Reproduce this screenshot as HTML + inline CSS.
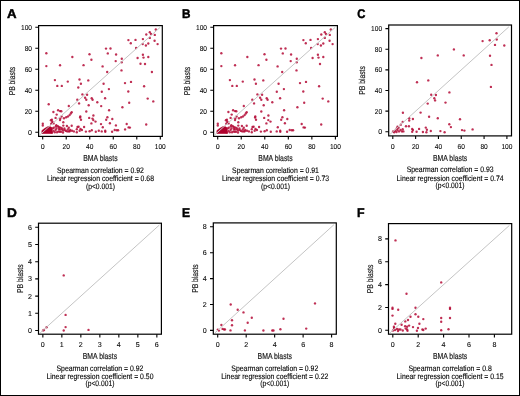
<!DOCTYPE html>
<html><head><meta charset="utf-8"><style>
html,body{margin:0;padding:0;background:#fff;}
svg{display:block;filter:blur(0.3px);}
text{font-family:"Liberation Sans", sans-serif;fill:#222;text-rendering:geometricPrecision;}
.L{font-weight:bold;font-size:12.6px;fill:#000;stroke:#000;stroke-width:0.45px;}
.T{font-size:7.1px;fill:#000;stroke:#000;stroke-width:0.08px;}
.A{font-size:8.6px;fill:#1a1a1a;stroke:#1a1a1a;stroke-width:0.18px;}
.S{font-size:7.9px;fill:#000;stroke:#000;stroke-width:0.12px;}
.bx{fill:none;stroke:#000;stroke-width:1.2;}
.tk{fill:none;stroke:#000;stroke-width:1.1;}
.dg{stroke:#c4c4c4;stroke-width:1.0;}
</style></head><body>
<svg width="520" height="396" viewBox="0 0 520 396">
<rect x="0.5" y="0.5" width="519" height="395" fill="#fff" stroke="#000" stroke-width="1"/>
<g><text transform="translate(6.98 17.75) scale(1.051 1)" x="0" y="0" class="L">A</text><g fill="#b40a36" fill-opacity="0.85"><circle cx="46.35" cy="53.26" r="1.18"/><circle cx="46.35" cy="66.1" r="1.18"/><circle cx="60.06" cy="65.3" r="1.18"/><circle cx="72.34" cy="56.95" r="1.18"/><circle cx="83.55" cy="65.18" r="1.18"/><circle cx="89.5" cy="54.2" r="1.18"/><circle cx="91.4" cy="59.8" r="1.18"/><circle cx="155.8" cy="29.5" r="1.18"/><circle cx="149.8" cy="32.2" r="1.18"/><circle cx="151" cy="33.9" r="1.18"/><circle cx="146.3" cy="34.5" r="1.18"/><circle cx="154.8" cy="34.9" r="1.18"/><circle cx="149.8" cy="37.9" r="1.18"/><circle cx="128.4" cy="40.1" r="1.18"/><circle cx="135.5" cy="39.9" r="1.18"/><circle cx="142.9" cy="39.1" r="1.18"/><circle cx="154.6" cy="40.7" r="1.18"/><circle cx="130.8" cy="43.2" r="1.18"/><circle cx="142.7" cy="44.1" r="1.18"/><circle cx="148.3" cy="43.5" r="1.18"/><circle cx="145.9" cy="45.5" r="1.18"/><circle cx="157.6" cy="44.1" r="1.18"/><circle cx="106" cy="48.6" r="1.18"/><circle cx="110.5" cy="48.5" r="1.18"/><circle cx="136.1" cy="48" r="1.18"/><circle cx="107.8" cy="53.4" r="1.18"/><circle cx="116.1" cy="54.5" r="1.18"/><circle cx="121.8" cy="58.7" r="1.18"/><circle cx="142.9" cy="54.8" r="1.18"/><circle cx="137.6" cy="58" r="1.18"/><circle cx="143.5" cy="57.6" r="1.18"/><circle cx="148.3" cy="57" r="1.18"/><circle cx="115.7" cy="61.1" r="1.18"/><circle cx="121.7" cy="62.2" r="1.18"/><circle cx="140.5" cy="63.8" r="1.18"/><circle cx="145" cy="64" r="1.18"/><circle cx="102.6" cy="66.4" r="1.18"/><circle cx="121.5" cy="70.4" r="1.18"/><circle cx="107.2" cy="72" r="1.18"/><circle cx="151.9" cy="72" r="1.18"/><circle cx="54.9" cy="80.1" r="1.18"/><circle cx="57.3" cy="85.9" r="1.18"/><circle cx="61.8" cy="85.9" r="1.18"/><circle cx="67.8" cy="81.6" r="1.18"/><circle cx="79.5" cy="79.5" r="1.18"/><circle cx="88.3" cy="80.4" r="1.18"/><circle cx="80.9" cy="83.7" r="1.18"/><circle cx="78.3" cy="87.5" r="1.18"/><circle cx="82.4" cy="94.4" r="1.18"/><circle cx="87.1" cy="94.8" r="1.18"/><circle cx="85.1" cy="97.7" r="1.18"/><circle cx="86.3" cy="99.8" r="1.18"/><circle cx="91.7" cy="98.3" r="1.18"/><circle cx="92.6" cy="99.8" r="1.18"/><circle cx="77.3" cy="99.8" r="1.18"/><circle cx="79.1" cy="103.4" r="1.18"/><circle cx="97.3" cy="102.2" r="1.18"/><circle cx="88.7" cy="105.2" r="1.18"/><circle cx="48.7" cy="104.2" r="1.18"/><circle cx="68.8" cy="106" r="1.18"/><circle cx="60.1" cy="111.1" r="1.18"/><circle cx="53.4" cy="112" r="1.18"/><circle cx="71.7" cy="112.3" r="1.18"/><circle cx="70.8" cy="113.5" r="1.18"/><circle cx="69.6" cy="115.1" r="1.18"/><circle cx="86.3" cy="111.5" r="1.18"/><circle cx="93.4" cy="115.5" r="1.18"/><circle cx="61.6" cy="116.5" r="1.18"/><circle cx="80.3" cy="116.5" r="1.18"/><circle cx="103.6" cy="83.7" r="1.18"/><circle cx="125" cy="83.1" r="1.18"/><circle cx="131" cy="81.9" r="1.18"/><circle cx="144.1" cy="86.3" r="1.18"/><circle cx="108.9" cy="89.1" r="1.18"/><circle cx="101.8" cy="91.8" r="1.18"/><circle cx="128.3" cy="91.5" r="1.18"/><circle cx="105.1" cy="98.3" r="1.18"/><circle cx="147.7" cy="98.6" r="1.18"/><circle cx="153.3" cy="101.4" r="1.18"/><circle cx="129.2" cy="102.8" r="1.18"/><circle cx="101.2" cy="106.1" r="1.18"/><circle cx="122.4" cy="107.2" r="1.18"/><circle cx="58.1" cy="110.2" r="1.18"/><circle cx="61.3" cy="111.3" r="1.18"/><circle cx="56.7" cy="114.6" r="1.18"/><circle cx="55.6" cy="117.9" r="1.18"/><circle cx="51.9" cy="119.7" r="1.18"/><circle cx="52.3" cy="121.6" r="1.18"/><circle cx="60.3" cy="118.6" r="1.18"/><circle cx="60" cy="120.1" r="1.18"/><circle cx="64" cy="118.3" r="1.18"/><circle cx="66.2" cy="117.2" r="1.18"/><circle cx="68" cy="116.4" r="1.18"/><circle cx="63.3" cy="122.3" r="1.18"/><circle cx="42.8" cy="123.8" r="1.18"/><circle cx="42.8" cy="125.6" r="1.18"/><circle cx="51.2" cy="123.8" r="1.18"/><circle cx="56.3" cy="125.2" r="1.18"/><circle cx="57.8" cy="126.3" r="1.18"/><circle cx="60" cy="127.4" r="1.18"/><circle cx="63.3" cy="125.6" r="1.18"/><circle cx="66.9" cy="126" r="1.18"/><circle cx="68.8" cy="127.8" r="1.18"/><circle cx="62.2" cy="129.2" r="1.18"/><circle cx="64.7" cy="130" r="1.18"/><circle cx="67.3" cy="131.4" r="1.18"/><circle cx="70.2" cy="130" r="1.18"/><circle cx="58.5" cy="131.4" r="1.18"/><circle cx="55.6" cy="130" r="1.18"/><circle cx="53.8" cy="127.8" r="1.18"/><circle cx="54.8" cy="132.2" r="1.18"/><circle cx="50.9" cy="120.2" r="1.18"/><circle cx="52.5" cy="122.8" r="1.18"/><circle cx="53.6" cy="123.4" r="1.18"/><circle cx="52.5" cy="128.5" r="1.18"/><circle cx="53.5" cy="131" r="1.18"/><circle cx="56.5" cy="128.5" r="1.18"/><circle cx="59" cy="129" r="1.18"/><circle cx="57" cy="132.3" r="1.18"/><circle cx="61" cy="131.8" r="1.18"/><circle cx="63" cy="132.5" r="1.18"/><circle cx="80.1" cy="117.5" r="1.18"/><circle cx="81" cy="119.7" r="1.18"/><circle cx="89.2" cy="117.9" r="1.18"/><circle cx="92.5" cy="118.6" r="1.18"/><circle cx="93.3" cy="120.1" r="1.18"/><circle cx="95.5" cy="121.6" r="1.18"/><circle cx="91.4" cy="123.4" r="1.18"/><circle cx="101" cy="124.1" r="1.18"/><circle cx="71.7" cy="125.7" r="1.18"/><circle cx="77.5" cy="127" r="1.18"/><circle cx="78.6" cy="126.7" r="1.18"/><circle cx="84.1" cy="127" r="1.18"/><circle cx="76.8" cy="129.2" r="1.18"/><circle cx="80.5" cy="128.9" r="1.18"/><circle cx="81.9" cy="130" r="1.18"/><circle cx="79.7" cy="130.7" r="1.18"/><circle cx="72" cy="130.7" r="1.18"/><circle cx="76.8" cy="132.2" r="1.18"/><circle cx="85.9" cy="131.6" r="1.18"/><circle cx="89.6" cy="131.3" r="1.18"/><circle cx="91.8" cy="130.3" r="1.18"/><circle cx="95.8" cy="131.8" r="1.18"/><circle cx="98.8" cy="130.7" r="1.18"/><circle cx="73.9" cy="131.4" r="1.18"/><circle cx="68.7" cy="131.4" r="1.18"/><circle cx="101.7" cy="131.4" r="1.18"/><circle cx="109.1" cy="110.2" r="1.18"/><circle cx="107.4" cy="117.2" r="1.18"/><circle cx="106.2" cy="119.7" r="1.18"/><circle cx="112.3" cy="119" r="1.18"/><circle cx="109.9" cy="123.2" r="1.18"/><circle cx="115.9" cy="125.4" r="1.18"/><circle cx="102.8" cy="127.2" r="1.18"/><circle cx="126.7" cy="124" r="1.18"/><circle cx="128.6" cy="127.4" r="1.18"/><circle cx="129.9" cy="127.6" r="1.18"/><circle cx="125.1" cy="129.4" r="1.18"/><circle cx="105.2" cy="130.7" r="1.18"/><circle cx="105.3" cy="131.8" r="1.18"/><circle cx="112.1" cy="131.8" r="1.18"/><circle cx="114.7" cy="130" r="1.18"/><circle cx="116.7" cy="130.3" r="1.18"/><circle cx="118.1" cy="130.3" r="1.18"/><circle cx="146.2" cy="124.5" r="1.18"/><circle cx="55.8" cy="126.5" r="1.18"/><circle cx="58.7" cy="127" r="1.18"/><circle cx="60.1" cy="129.4" r="1.18"/><circle cx="61.6" cy="128" r="1.18"/><circle cx="63" cy="130.4" r="1.18"/><circle cx="64.4" cy="128.5" r="1.18"/><circle cx="65.9" cy="130.9" r="1.18"/><circle cx="67.8" cy="129.4" r="1.18"/><circle cx="69.7" cy="131.3" r="1.18"/><circle cx="59.6" cy="131.8" r="1.18"/><circle cx="51.5" cy="132.3" r="1.18"/></g><polygon fill="#b0002c" stroke="#b0002c" stroke-width="0.6" stroke-linejoin="round" points="41.9,133.5 41.9,130.6 44.5,128.6 47.5,126.8 49.8,126.4 51.8,127.6 52.6,133.5"/><line x1="39.9" y1="134.8" x2="160.08" y2="27.4" class="dg"/><rect x="38.6" y="25.6" width="123.7" height="110.8" class="bx"/><path d="M42.7 136.4V139.6M66.22 136.4V139.6M89.74 136.4V139.6M113.26 136.4V139.6M136.78 136.4V139.6M160.3 136.4V139.6M38.6 132.3H35.3M38.6 111.28H35.3M38.6 90.26H35.3M38.6 69.24H35.3M38.6 48.22H35.3M38.6 27.2H35.3" class="tk"/><text x="42.7" y="149" class="T" text-anchor="middle">0</text><text x="66.22" y="149" class="T" text-anchor="middle" textLength="7.34" lengthAdjust="spacingAndGlyphs">20</text><text x="89.74" y="149" class="T" text-anchor="middle" textLength="7.34" lengthAdjust="spacingAndGlyphs">40</text><text x="113.26" y="149" class="T" text-anchor="middle" textLength="7.34" lengthAdjust="spacingAndGlyphs">60</text><text x="136.78" y="149" class="T" text-anchor="middle" textLength="7.34" lengthAdjust="spacingAndGlyphs">80</text><text x="160.3" y="149" class="T" text-anchor="middle" textLength="11.01" lengthAdjust="spacingAndGlyphs">100</text><text x="32" y="134.7" class="T" text-anchor="end">0</text><text x="32" y="113.68" class="T" text-anchor="end" textLength="7.34" lengthAdjust="spacingAndGlyphs">20</text><text x="32" y="92.66" class="T" text-anchor="end" textLength="7.34" lengthAdjust="spacingAndGlyphs">40</text><text x="32" y="71.64" class="T" text-anchor="end" textLength="7.34" lengthAdjust="spacingAndGlyphs">60</text><text x="32" y="50.62" class="T" text-anchor="end" textLength="7.34" lengthAdjust="spacingAndGlyphs">80</text><text x="32" y="29.6" class="T" text-anchor="end" textLength="11.01" lengthAdjust="spacingAndGlyphs">100</text><text x="100.45" y="161.2" class="A" text-anchor="middle" textLength="34.4" lengthAdjust="spacingAndGlyphs">BMA blasts</text><text transform="translate(15.2 81) rotate(-90)" x="0" y="0" class="A" text-anchor="middle" textLength="28.5" lengthAdjust="spacingAndGlyphs">PB blasts</text><text x="100.45" y="172.7" class="S" text-anchor="middle" textLength="86.9" lengthAdjust="spacingAndGlyphs">Spearman correlation = 0.92</text><text x="100.45" y="181" class="S" text-anchor="middle" textLength="107.1" lengthAdjust="spacingAndGlyphs">Linear regression coefficient = 0.68</text><text x="100.45" y="188.6" class="S" text-anchor="middle" textLength="29.0" lengthAdjust="spacingAndGlyphs">(p&lt;0.001)</text></g><g><text transform="translate(182.12 17.75) scale(0.935 1)" x="0" y="0" class="L">B</text><g fill="#b40a36" fill-opacity="0.85"><circle cx="221.35" cy="53.26" r="1.18"/><circle cx="221.35" cy="66.1" r="1.18"/><circle cx="235.06" cy="65.3" r="1.18"/><circle cx="247.34" cy="56.95" r="1.18"/><circle cx="258.55" cy="65.18" r="1.18"/><circle cx="264.5" cy="54.2" r="1.18"/><circle cx="266.4" cy="59.8" r="1.18"/><circle cx="330.8" cy="29.5" r="1.18"/><circle cx="324.8" cy="32.2" r="1.18"/><circle cx="326" cy="33.9" r="1.18"/><circle cx="321.3" cy="34.5" r="1.18"/><circle cx="329.8" cy="34.9" r="1.18"/><circle cx="324.8" cy="37.9" r="1.18"/><circle cx="303.4" cy="40.1" r="1.18"/><circle cx="310.5" cy="39.9" r="1.18"/><circle cx="317.9" cy="39.1" r="1.18"/><circle cx="329.6" cy="40.7" r="1.18"/><circle cx="305.8" cy="43.2" r="1.18"/><circle cx="317.7" cy="44.1" r="1.18"/><circle cx="323.3" cy="43.5" r="1.18"/><circle cx="320.9" cy="45.5" r="1.18"/><circle cx="332.6" cy="44.1" r="1.18"/><circle cx="281" cy="48.6" r="1.18"/><circle cx="285.5" cy="48.5" r="1.18"/><circle cx="311.1" cy="48" r="1.18"/><circle cx="282.8" cy="53.4" r="1.18"/><circle cx="291.1" cy="54.5" r="1.18"/><circle cx="296.8" cy="58.7" r="1.18"/><circle cx="317.9" cy="54.8" r="1.18"/><circle cx="312.6" cy="58" r="1.18"/><circle cx="318.5" cy="57.6" r="1.18"/><circle cx="323.3" cy="57" r="1.18"/><circle cx="290.7" cy="61.1" r="1.18"/><circle cx="296.7" cy="62.2" r="1.18"/><circle cx="320" cy="64" r="1.18"/><circle cx="277.6" cy="66.4" r="1.18"/><circle cx="296.5" cy="70.4" r="1.18"/><circle cx="282.2" cy="72" r="1.18"/><circle cx="229.9" cy="80.1" r="1.18"/><circle cx="232.3" cy="85.9" r="1.18"/><circle cx="236.8" cy="85.9" r="1.18"/><circle cx="242.8" cy="81.6" r="1.18"/><circle cx="254.5" cy="79.5" r="1.18"/><circle cx="263.3" cy="80.4" r="1.18"/><circle cx="255.9" cy="83.7" r="1.18"/><circle cx="257.4" cy="94.4" r="1.18"/><circle cx="262.1" cy="94.8" r="1.18"/><circle cx="260.1" cy="97.7" r="1.18"/><circle cx="261.3" cy="99.8" r="1.18"/><circle cx="266.7" cy="98.3" r="1.18"/><circle cx="267.6" cy="99.8" r="1.18"/><circle cx="252.3" cy="99.8" r="1.18"/><circle cx="254.1" cy="103.4" r="1.18"/><circle cx="272.3" cy="102.2" r="1.18"/><circle cx="263.7" cy="105.2" r="1.18"/><circle cx="243.8" cy="106" r="1.18"/><circle cx="235.1" cy="111.1" r="1.18"/><circle cx="228.4" cy="112" r="1.18"/><circle cx="246.7" cy="112.3" r="1.18"/><circle cx="245.8" cy="113.5" r="1.18"/><circle cx="244.6" cy="115.1" r="1.18"/><circle cx="261.3" cy="111.5" r="1.18"/><circle cx="268.4" cy="115.5" r="1.18"/><circle cx="236.6" cy="116.5" r="1.18"/><circle cx="255.3" cy="116.5" r="1.18"/><circle cx="278.6" cy="83.7" r="1.18"/><circle cx="300" cy="83.1" r="1.18"/><circle cx="306" cy="81.9" r="1.18"/><circle cx="319.1" cy="86.3" r="1.18"/><circle cx="283.9" cy="89.1" r="1.18"/><circle cx="276.8" cy="91.8" r="1.18"/><circle cx="303.3" cy="91.5" r="1.18"/><circle cx="280.1" cy="98.3" r="1.18"/><circle cx="322.7" cy="98.6" r="1.18"/><circle cx="328.3" cy="101.4" r="1.18"/><circle cx="304.2" cy="102.8" r="1.18"/><circle cx="297.4" cy="107.2" r="1.18"/><circle cx="233.1" cy="110.2" r="1.18"/><circle cx="236.3" cy="111.3" r="1.18"/><circle cx="231.7" cy="114.6" r="1.18"/><circle cx="230.6" cy="117.9" r="1.18"/><circle cx="226.9" cy="119.7" r="1.18"/><circle cx="227.3" cy="121.6" r="1.18"/><circle cx="235.3" cy="118.6" r="1.18"/><circle cx="235" cy="120.1" r="1.18"/><circle cx="239" cy="118.3" r="1.18"/><circle cx="241.2" cy="117.2" r="1.18"/><circle cx="243" cy="116.4" r="1.18"/><circle cx="238.3" cy="122.3" r="1.18"/><circle cx="217.8" cy="123.8" r="1.18"/><circle cx="217.8" cy="125.6" r="1.18"/><circle cx="226.2" cy="123.8" r="1.18"/><circle cx="231.3" cy="125.2" r="1.18"/><circle cx="232.8" cy="126.3" r="1.18"/><circle cx="235" cy="127.4" r="1.18"/><circle cx="238.3" cy="125.6" r="1.18"/><circle cx="241.9" cy="126" r="1.18"/><circle cx="243.8" cy="127.8" r="1.18"/><circle cx="237.2" cy="129.2" r="1.18"/><circle cx="239.7" cy="130" r="1.18"/><circle cx="242.3" cy="131.4" r="1.18"/><circle cx="245.2" cy="130" r="1.18"/><circle cx="233.5" cy="131.4" r="1.18"/><circle cx="230.6" cy="130" r="1.18"/><circle cx="228.8" cy="127.8" r="1.18"/><circle cx="229.8" cy="132.2" r="1.18"/><circle cx="225.9" cy="120.2" r="1.18"/><circle cx="227.5" cy="122.8" r="1.18"/><circle cx="228.6" cy="123.4" r="1.18"/><circle cx="227.5" cy="128.5" r="1.18"/><circle cx="228.5" cy="131" r="1.18"/><circle cx="231.5" cy="128.5" r="1.18"/><circle cx="234" cy="129" r="1.18"/><circle cx="232" cy="132.3" r="1.18"/><circle cx="236" cy="131.8" r="1.18"/><circle cx="238" cy="132.5" r="1.18"/><circle cx="255.1" cy="117.5" r="1.18"/><circle cx="256" cy="119.7" r="1.18"/><circle cx="264.2" cy="117.9" r="1.18"/><circle cx="268.3" cy="120.1" r="1.18"/><circle cx="270.5" cy="121.6" r="1.18"/><circle cx="266.4" cy="123.4" r="1.18"/><circle cx="246.7" cy="125.7" r="1.18"/><circle cx="252.5" cy="127" r="1.18"/><circle cx="253.6" cy="126.7" r="1.18"/><circle cx="259.1" cy="127" r="1.18"/><circle cx="251.8" cy="129.2" r="1.18"/><circle cx="255.5" cy="128.9" r="1.18"/><circle cx="256.9" cy="130" r="1.18"/><circle cx="254.7" cy="130.7" r="1.18"/><circle cx="247" cy="130.7" r="1.18"/><circle cx="251.8" cy="132.2" r="1.18"/><circle cx="260.9" cy="131.6" r="1.18"/><circle cx="264.6" cy="131.3" r="1.18"/><circle cx="266.8" cy="130.3" r="1.18"/><circle cx="270.8" cy="131.8" r="1.18"/><circle cx="248.9" cy="131.4" r="1.18"/><circle cx="243.7" cy="131.4" r="1.18"/><circle cx="276.7" cy="131.4" r="1.18"/><circle cx="284.1" cy="110.2" r="1.18"/><circle cx="282.4" cy="117.2" r="1.18"/><circle cx="281.2" cy="119.7" r="1.18"/><circle cx="287.3" cy="119" r="1.18"/><circle cx="284.9" cy="123.2" r="1.18"/><circle cx="277.8" cy="127.2" r="1.18"/><circle cx="301.7" cy="124" r="1.18"/><circle cx="303.6" cy="127.4" r="1.18"/><circle cx="304.9" cy="127.6" r="1.18"/><circle cx="280.2" cy="130.7" r="1.18"/><circle cx="280.3" cy="131.8" r="1.18"/><circle cx="287.1" cy="131.8" r="1.18"/><circle cx="289.7" cy="130" r="1.18"/><circle cx="291.7" cy="130.3" r="1.18"/><circle cx="293.1" cy="130.3" r="1.18"/><circle cx="321.2" cy="124.5" r="1.18"/><circle cx="230.8" cy="126.5" r="1.18"/><circle cx="233.7" cy="127" r="1.18"/><circle cx="235.1" cy="129.4" r="1.18"/><circle cx="236.6" cy="128" r="1.18"/><circle cx="238" cy="130.4" r="1.18"/><circle cx="239.4" cy="128.5" r="1.18"/><circle cx="240.9" cy="130.9" r="1.18"/><circle cx="242.8" cy="129.4" r="1.18"/><circle cx="244.7" cy="131.3" r="1.18"/><circle cx="234.6" cy="131.8" r="1.18"/><circle cx="226.5" cy="132.3" r="1.18"/></g><polygon fill="#b0002c" stroke="#b0002c" stroke-width="0.6" stroke-linejoin="round" points="216.9,133.5 216.9,130.6 219.5,128.6 222.5,126.8 224.8,126.4 226.8,127.6 227.6,133.5"/><line x1="214.9" y1="134.7" x2="335.18" y2="27.4" class="dg"/><rect x="213.6" y="25.6" width="123.8" height="110.8" class="bx"/><path d="M217.7 136.4V139.6M241.24 136.4V139.6M264.78 136.4V139.6M288.32 136.4V139.6M311.86 136.4V139.6M335.4 136.4V139.6M213.6 132.2H210.3M213.6 111.2H210.3M213.6 90.2H210.3M213.6 69.2H210.3M213.6 48.2H210.3M213.6 27.2H210.3" class="tk"/><text x="217.7" y="149" class="T" text-anchor="middle">0</text><text x="241.24" y="149" class="T" text-anchor="middle" textLength="7.34" lengthAdjust="spacingAndGlyphs">20</text><text x="264.78" y="149" class="T" text-anchor="middle" textLength="7.34" lengthAdjust="spacingAndGlyphs">40</text><text x="288.32" y="149" class="T" text-anchor="middle" textLength="7.34" lengthAdjust="spacingAndGlyphs">60</text><text x="311.86" y="149" class="T" text-anchor="middle" textLength="7.34" lengthAdjust="spacingAndGlyphs">80</text><text x="335.4" y="149" class="T" text-anchor="middle" textLength="11.01" lengthAdjust="spacingAndGlyphs">100</text><text x="207" y="134.6" class="T" text-anchor="end">0</text><text x="207" y="113.6" class="T" text-anchor="end" textLength="7.34" lengthAdjust="spacingAndGlyphs">20</text><text x="207" y="92.6" class="T" text-anchor="end" textLength="7.34" lengthAdjust="spacingAndGlyphs">40</text><text x="207" y="71.6" class="T" text-anchor="end" textLength="7.34" lengthAdjust="spacingAndGlyphs">60</text><text x="207" y="50.6" class="T" text-anchor="end" textLength="7.34" lengthAdjust="spacingAndGlyphs">80</text><text x="207" y="29.6" class="T" text-anchor="end" textLength="11.01" lengthAdjust="spacingAndGlyphs">100</text><text x="275.5" y="161.2" class="A" text-anchor="middle" textLength="34.4" lengthAdjust="spacingAndGlyphs">BMA blasts</text><text transform="translate(190.2 81) rotate(-90)" x="0" y="0" class="A" text-anchor="middle" textLength="28.5" lengthAdjust="spacingAndGlyphs">PB blasts</text><text x="275.5" y="172.7" class="S" text-anchor="middle" textLength="86.9" lengthAdjust="spacingAndGlyphs">Spearman correlation = 0.91</text><text x="275.5" y="181" class="S" text-anchor="middle" textLength="107.1" lengthAdjust="spacingAndGlyphs">Linear regression coefficient = 0.73</text><text x="275.5" y="188.6" class="S" text-anchor="middle" textLength="29.0" lengthAdjust="spacingAndGlyphs">(p&lt;0.001)</text></g><g><text transform="translate(357.24 17.75) scale(0.898 1)" x="0" y="0" class="L">C</text><g fill="#b40a36" fill-opacity="0.85"><circle cx="421.4" cy="58" r="1.18"/><circle cx="437.8" cy="55.4" r="1.18"/><circle cx="496.5" cy="33.3" r="1.18"/><circle cx="482.6" cy="41.1" r="1.18"/><circle cx="489.7" cy="40.3" r="1.18"/><circle cx="496.7" cy="39.5" r="1.18"/><circle cx="495" cy="44.9" r="1.18"/><circle cx="504.3" cy="45.5" r="1.18"/><circle cx="453.9" cy="49.4" r="1.18"/><circle cx="463.7" cy="55.4" r="1.18"/><circle cx="490" cy="55.8" r="1.18"/><circle cx="491.5" cy="64.9" r="1.18"/><circle cx="417" cy="82.2" r="1.18"/><circle cx="428.3" cy="80.4" r="1.18"/><circle cx="431.2" cy="94.8" r="1.18"/><circle cx="435.9" cy="95" r="1.18"/><circle cx="434.3" cy="98.3" r="1.18"/><circle cx="435.1" cy="100.4" r="1.18"/><circle cx="427.7" cy="103.6" r="1.18"/><circle cx="445.5" cy="102.6" r="1.18"/><circle cx="449.4" cy="92.4" r="1.18"/><circle cx="402.9" cy="112.7" r="1.18"/><circle cx="420.6" cy="112.6" r="1.18"/><circle cx="429.1" cy="116.7" r="1.18"/><circle cx="490.9" cy="86.9" r="1.18"/><circle cx="409.2" cy="118.3" r="1.18"/><circle cx="412.9" cy="119" r="1.18"/><circle cx="409.2" cy="120.5" r="1.18"/><circle cx="402.7" cy="121.9" r="1.18"/><circle cx="400.8" cy="124.8" r="1.18"/><circle cx="406" cy="126.3" r="1.18"/><circle cx="408.9" cy="126.2" r="1.18"/><circle cx="397.5" cy="126.7" r="1.18"/><circle cx="412.2" cy="128.9" r="1.18"/><circle cx="412.9" cy="130" r="1.18"/><circle cx="412.2" cy="131.8" r="1.18"/><circle cx="416.6" cy="131.8" r="1.18"/><circle cx="419.1" cy="128.9" r="1.18"/><circle cx="402.7" cy="129.2" r="1.18"/><circle cx="403.4" cy="131.4" r="1.18"/><circle cx="393.1" cy="131.4" r="1.18"/><circle cx="395.3" cy="130.7" r="1.18"/><circle cx="397.5" cy="130" r="1.18"/><circle cx="399" cy="131.4" r="1.18"/><circle cx="400.5" cy="130" r="1.18"/><circle cx="401.9" cy="131.4" r="1.18"/><circle cx="396.8" cy="128.5" r="1.18"/><circle cx="398.6" cy="127.8" r="1.18"/><circle cx="394.2" cy="132.2" r="1.18"/><circle cx="396.5" cy="132" r="1.18"/><circle cx="437.8" cy="118.2" r="1.18"/><circle cx="449.3" cy="124.3" r="1.18"/><circle cx="450.9" cy="127.1" r="1.18"/><circle cx="425.8" cy="127.6" r="1.18"/><circle cx="426.9" cy="129.7" r="1.18"/><circle cx="422.9" cy="132" r="1.18"/><circle cx="426.4" cy="132.2" r="1.18"/><circle cx="430.8" cy="131" r="1.18"/><circle cx="440.4" cy="131.1" r="1.18"/><circle cx="444.6" cy="132.2" r="1.18"/><circle cx="460" cy="119.2" r="1.18"/><circle cx="462" cy="130.1" r="1.18"/><circle cx="464.4" cy="130.6" r="1.18"/><circle cx="472.6" cy="129.4" r="1.18"/></g><line x1="390" y1="134.33" x2="508.89" y2="26.8" class="dg"/><rect x="388.7" y="25.0" width="122.8" height="110.9" class="bx"/><path d="M392.8 135.9V139.1M415.62 135.9V139.1M438.44 135.9V139.1M461.26 135.9V139.1M484.08 135.9V139.1M506.9 135.9V139.1M388.7 131.8H385.4M388.7 111.16H385.4M388.7 90.52H385.4M388.7 69.88H385.4M388.7 49.24H385.4M388.7 28.6H385.4" class="tk"/><text x="392.8" y="148.5" class="T" text-anchor="middle">0</text><text x="415.62" y="148.5" class="T" text-anchor="middle" textLength="7.34" lengthAdjust="spacingAndGlyphs">20</text><text x="438.44" y="148.5" class="T" text-anchor="middle" textLength="7.34" lengthAdjust="spacingAndGlyphs">40</text><text x="461.26" y="148.5" class="T" text-anchor="middle" textLength="7.34" lengthAdjust="spacingAndGlyphs">60</text><text x="484.08" y="148.5" class="T" text-anchor="middle" textLength="7.34" lengthAdjust="spacingAndGlyphs">80</text><text x="506.9" y="148.5" class="T" text-anchor="middle" textLength="11.01" lengthAdjust="spacingAndGlyphs">100</text><text x="382.1" y="134.2" class="T" text-anchor="end">0</text><text x="382.1" y="113.56" class="T" text-anchor="end" textLength="7.34" lengthAdjust="spacingAndGlyphs">20</text><text x="382.1" y="92.92" class="T" text-anchor="end" textLength="7.34" lengthAdjust="spacingAndGlyphs">40</text><text x="382.1" y="72.28" class="T" text-anchor="end" textLength="7.34" lengthAdjust="spacingAndGlyphs">60</text><text x="382.1" y="51.64" class="T" text-anchor="end" textLength="7.34" lengthAdjust="spacingAndGlyphs">80</text><text x="382.1" y="31" class="T" text-anchor="end" textLength="11.01" lengthAdjust="spacingAndGlyphs">100</text><text x="450.1" y="160.7" class="A" text-anchor="middle" textLength="34.4" lengthAdjust="spacingAndGlyphs">BMA blasts</text><text transform="translate(365.3 80.45) rotate(-90)" x="0" y="0" class="A" text-anchor="middle" textLength="28.5" lengthAdjust="spacingAndGlyphs">PB blasts</text><text x="450.1" y="172.2" class="S" text-anchor="middle" textLength="86.9" lengthAdjust="spacingAndGlyphs">Spearman correlation = 0.93</text><text x="450.1" y="180.5" class="S" text-anchor="middle" textLength="107.1" lengthAdjust="spacingAndGlyphs">Linear regression coefficient = 0.74</text><text x="450.1" y="188.1" class="S" text-anchor="middle" textLength="29.0" lengthAdjust="spacingAndGlyphs">(p&lt;0.001)</text></g><g><text transform="translate(6.9 217.4) scale(1.084 1)" x="0" y="0" class="L">D</text><g fill="#b40a36" fill-opacity="0.85"><circle cx="43.1" cy="330.4" r="1.18"/><circle cx="44" cy="330" r="1.18"/><circle cx="46.6" cy="327.2" r="1.18"/><circle cx="65.6" cy="314.9" r="1.18"/><circle cx="65.6" cy="327.1" r="1.18"/><circle cx="63.7" cy="330.5" r="1.18"/><circle cx="88.5" cy="329.9" r="1.18"/><circle cx="63.7" cy="275.4" r="1.18"/></g><line x1="40.2" y1="332.9" x2="159.39" y2="225" class="dg"/><rect x="38.5" y="223.2" width="122.9" height="111" class="bx"/><path d="M42.85 334.2V337.4M61.85 334.2V337.4M80.85 334.2V337.4M99.85 334.2V337.4M118.85 334.2V337.4M137.85 334.2V337.4M156.85 334.2V337.4M38.5 330.5H35.2M38.5 313.3H35.2M38.5 296.1H35.2M38.5 278.9H35.2M38.5 261.7H35.2M38.5 244.5H35.2M38.5 227.3H35.2" class="tk"/><text x="42.85" y="346.8" class="T" text-anchor="middle">0</text><text x="61.85" y="346.8" class="T" text-anchor="middle">1</text><text x="80.85" y="346.8" class="T" text-anchor="middle">2</text><text x="99.85" y="346.8" class="T" text-anchor="middle">3</text><text x="118.85" y="346.8" class="T" text-anchor="middle">4</text><text x="137.85" y="346.8" class="T" text-anchor="middle">5</text><text x="156.85" y="346.8" class="T" text-anchor="middle">6</text><text x="31.9" y="332.9" class="T" text-anchor="end">0</text><text x="31.9" y="315.7" class="T" text-anchor="end">1</text><text x="31.9" y="298.5" class="T" text-anchor="end">2</text><text x="31.9" y="281.3" class="T" text-anchor="end">3</text><text x="31.9" y="264.1" class="T" text-anchor="end">4</text><text x="31.9" y="246.9" class="T" text-anchor="end">5</text><text x="31.9" y="229.7" class="T" text-anchor="end">6</text><text x="99.95" y="359" class="A" text-anchor="middle" textLength="34.4" lengthAdjust="spacingAndGlyphs">BMA blasts</text><text transform="translate(23.2 278.7) rotate(-90)" x="0" y="0" class="A" text-anchor="middle" textLength="28.5" lengthAdjust="spacingAndGlyphs">PB blasts</text><text x="99.95" y="370.5" class="S" text-anchor="middle" textLength="86.9" lengthAdjust="spacingAndGlyphs">Spearman correlation = 0.92</text><text x="99.95" y="378.8" class="S" text-anchor="middle" textLength="107.1" lengthAdjust="spacingAndGlyphs">Linear regression coefficient = 0.50</text><text x="99.95" y="386.4" class="S" text-anchor="middle" textLength="29.0" lengthAdjust="spacingAndGlyphs">(p&lt;0.001)</text></g><g><text transform="translate(182.1 217.4) scale(0.960 1)" x="0" y="0" class="L">E</text><g fill="#b40a36" fill-opacity="0.85"><circle cx="230.7" cy="304.5" r="1.18"/><circle cx="237.7" cy="309.7" r="1.18"/><circle cx="243.5" cy="312.4" r="1.18"/><circle cx="251.8" cy="317.7" r="1.18"/><circle cx="232" cy="320.2" r="1.18"/><circle cx="247.7" cy="322.7" r="1.18"/><circle cx="232" cy="325.3" r="1.18"/><circle cx="221.4" cy="325" r="1.18"/><circle cx="217.8" cy="329.6" r="1.18"/><circle cx="218.9" cy="330.6" r="1.18"/><circle cx="222.6" cy="328.9" r="1.18"/><circle cx="224" cy="329.4" r="1.18"/><circle cx="225" cy="329.4" r="1.18"/><circle cx="230.5" cy="330.4" r="1.18"/><circle cx="244.9" cy="330.4" r="1.18"/><circle cx="263.4" cy="330.5" r="1.18"/><circle cx="272.3" cy="330.5" r="1.18"/><circle cx="273.5" cy="330.5" r="1.18"/><circle cx="280.4" cy="329.2" r="1.18"/><circle cx="283.5" cy="318.8" r="1.18"/><circle cx="306.2" cy="328.6" r="1.18"/><circle cx="315" cy="303.4" r="1.18"/></g><line x1="214.95" y1="332.9" x2="333.91" y2="224.7" class="dg"/><rect x="213.3" y="222.9" width="123" height="111.3" class="bx"/><path d="M217.7 334.2V337.4M246.18 334.2V337.4M274.65 334.2V337.4M303.12 334.2V337.4M331.6 334.2V337.4M213.3 330.4H210M213.3 304.5H210M213.3 278.6H210M213.3 252.7H210M213.3 226.8H210" class="tk"/><text x="217.7" y="346.8" class="T" text-anchor="middle">0</text><text x="246.18" y="346.8" class="T" text-anchor="middle">2</text><text x="274.65" y="346.8" class="T" text-anchor="middle">4</text><text x="303.12" y="346.8" class="T" text-anchor="middle">6</text><text x="331.6" y="346.8" class="T" text-anchor="middle">8</text><text x="206.7" y="332.8" class="T" text-anchor="end">0</text><text x="206.7" y="306.9" class="T" text-anchor="end">2</text><text x="206.7" y="281" class="T" text-anchor="end">4</text><text x="206.7" y="255.1" class="T" text-anchor="end">6</text><text x="206.7" y="229.2" class="T" text-anchor="end">8</text><text x="274.8" y="359" class="A" text-anchor="middle" textLength="34.4" lengthAdjust="spacingAndGlyphs">BMA blasts</text><text transform="translate(198 278.55) rotate(-90)" x="0" y="0" class="A" text-anchor="middle" textLength="28.5" lengthAdjust="spacingAndGlyphs">PB blasts</text><text x="274.8" y="370.5" class="S" text-anchor="middle" textLength="86.9" lengthAdjust="spacingAndGlyphs">Spearman correlation = 0.92</text><text x="274.8" y="378.8" class="S" text-anchor="middle" textLength="107.1" lengthAdjust="spacingAndGlyphs">Linear regression coefficient = 0.22</text><text x="274.8" y="386.4" class="S" text-anchor="middle" textLength="29.0" lengthAdjust="spacingAndGlyphs">(p&lt;0.001)</text></g><g><text transform="translate(357.08 217.4) scale(0.982 1)" x="0" y="0" class="L">F</text><g fill="#b40a36" fill-opacity="0.85"><circle cx="392.5" cy="307.7" r="1.18"/><circle cx="392.5" cy="308.9" r="1.18"/><circle cx="398.2" cy="309.8" r="1.18"/><circle cx="415.5" cy="307.7" r="1.18"/><circle cx="392.5" cy="315.6" r="1.18"/><circle cx="415.5" cy="314.3" r="1.18"/><circle cx="418.3" cy="316.8" r="1.18"/><circle cx="410.5" cy="316.8" r="1.18"/><circle cx="423.3" cy="319.1" r="1.18"/><circle cx="408" cy="320" r="1.18"/><circle cx="405.3" cy="321.4" r="1.18"/><circle cx="395.3" cy="323.8" r="1.18"/><circle cx="401.6" cy="324.7" r="1.18"/><circle cx="419.4" cy="323.8" r="1.18"/><circle cx="409.1" cy="325.6" r="1.18"/><circle cx="405.1" cy="326.2" r="1.18"/><circle cx="407.1" cy="326.8" r="1.18"/><circle cx="413" cy="327.1" r="1.18"/><circle cx="393.9" cy="326.8" r="1.18"/><circle cx="418" cy="328" r="1.18"/><circle cx="425.7" cy="328.6" r="1.18"/><circle cx="422.4" cy="329.5" r="1.18"/><circle cx="423.3" cy="330" r="1.18"/><circle cx="416.9" cy="330.7" r="1.18"/><circle cx="402.8" cy="330.5" r="1.18"/><circle cx="407.1" cy="329.5" r="1.18"/><circle cx="407.5" cy="330.7" r="1.18"/><circle cx="405.7" cy="328.6" r="1.18"/><circle cx="395" cy="330" r="1.18"/><circle cx="397" cy="329" r="1.18"/><circle cx="399" cy="329.5" r="1.18"/><circle cx="393" cy="330.5" r="1.18"/><circle cx="394" cy="328" r="1.18"/><circle cx="400.5" cy="329.5" r="1.18"/><circle cx="398" cy="331" r="1.18"/><circle cx="406.5" cy="293.8" r="1.18"/><circle cx="441.2" cy="282.4" r="1.18"/><circle cx="450" cy="307.8" r="1.18"/><circle cx="450" cy="308.9" r="1.18"/><circle cx="441.2" cy="318" r="1.18"/><circle cx="450" cy="318" r="1.18"/><circle cx="441.2" cy="321.8" r="1.18"/><circle cx="441.2" cy="330.2" r="1.18"/><circle cx="448.5" cy="329.3" r="1.18"/><circle cx="395.5" cy="240.4" r="1.18"/></g><line x1="389.91" y1="332.9" x2="509.41" y2="225.4" class="dg"/><rect x="388.5" y="223.6" width="123.2" height="110.6" class="bx"/><path d="M392.8 334.2V337.4M418.2 334.2V337.4M443.6 334.2V337.4M469 334.2V337.4M494.4 334.2V337.4M388.5 330.3H385.2M388.5 307.45H385.2M388.5 284.6H385.2M388.5 261.75H385.2M388.5 238.9H385.2" class="tk"/><text x="392.8" y="346.8" class="T" text-anchor="middle">0</text><text x="418.2" y="346.8" class="T" text-anchor="middle">2</text><text x="443.6" y="346.8" class="T" text-anchor="middle">4</text><text x="469" y="346.8" class="T" text-anchor="middle">6</text><text x="494.4" y="346.8" class="T" text-anchor="middle">8</text><text x="381.9" y="332.7" class="T" text-anchor="end">0</text><text x="381.9" y="309.85" class="T" text-anchor="end">2</text><text x="381.9" y="287" class="T" text-anchor="end">4</text><text x="381.9" y="264.15" class="T" text-anchor="end">6</text><text x="381.9" y="241.3" class="T" text-anchor="end">8</text><text x="450.1" y="359" class="A" text-anchor="middle" textLength="34.4" lengthAdjust="spacingAndGlyphs">BMA blasts</text><text transform="translate(373.2 278.9) rotate(-90)" x="0" y="0" class="A" text-anchor="middle" textLength="28.5" lengthAdjust="spacingAndGlyphs">PB blasts</text><text x="450.1" y="370.5" class="S" text-anchor="middle" textLength="83.30000000000001" lengthAdjust="spacingAndGlyphs">Spearman correlation = 0.8</text><text x="450.1" y="378.8" class="S" text-anchor="middle" textLength="107.1" lengthAdjust="spacingAndGlyphs">Linear regression coefficient = 0.15</text><text x="450.1" y="386.4" class="S" text-anchor="middle" textLength="29.0" lengthAdjust="spacingAndGlyphs">(p&lt;0.001)</text></g>
</svg>
</body></html>
